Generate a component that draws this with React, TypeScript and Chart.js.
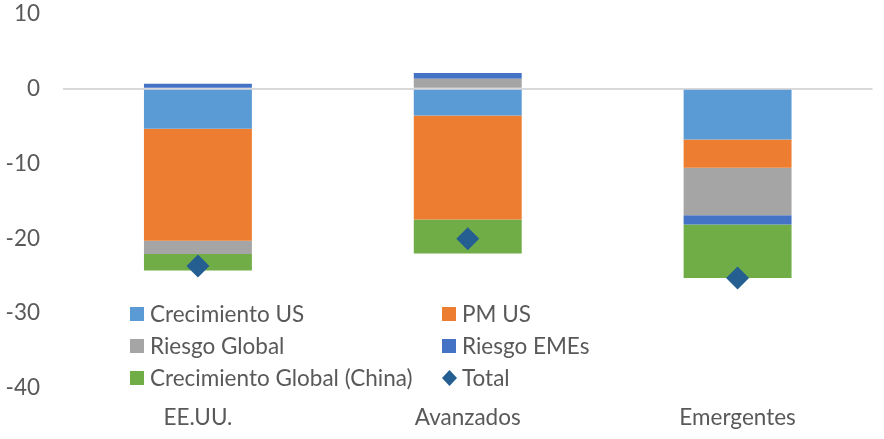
import React, { useEffect, useRef } from "react";
import { Chart, registerables } from "chart.js";

Chart.register(...registerables);

const categories = ["EE.UU.", "Avanzados", "Emergentes"];
const crecimientoUS = [-5.35, -3.57, -6.78];
const pmUS = [-14.95, -13.9, -3.78];
const riesgoGlobal = [-1.8, 1.34, -6.33];
const riesgoEMEs = [0.67, 0.76, -1.25];
const crecimientoGlobal = [-2.2, -4.55, -7.17];
const total = [-23.7, -20.05, -25.3];
const yTicks = [-40, -30, -20, -10, 0, 10];

const FONT = "Lato";
const FSIZE = 22.5;
const TEXT = "#595959";

const legendPlugin = {
  id: "customLegend",
  afterDraw(chart: any) {
    const ctx = chart.ctx;
    const ds = chart.data.datasets;
    // layout of legend items: [datasetIndex, x, y]
    const items: [number, number, number][] = [
      [1, 130, 314],
      [2, 442, 314],
      [3, 130, 346],
      [4, 442, 346],
      [5, 130, 378],
      [0, 442, 378],
    ];
    ctx.save();
    ctx.font = `${FSIZE}px ${FONT}`;
    ctx.textBaseline = "middle";
    ctx.textAlign = "left";
    for (const [i, x, y] of items) {
      const d = ds[i];
      if (d.type === "line") {
        ctx.fillStyle = d.backgroundColor;
        ctx.beginPath();
        ctx.moveTo(x + 7.5, y - 8);
        ctx.lineTo(x + 15, y);
        ctx.lineTo(x + 7.5, y + 8);
        ctx.lineTo(x, y);
        ctx.closePath();
        ctx.fill();
      } else {
        ctx.fillStyle = d.backgroundColor;
        ctx.fillRect(x, y - 7, 14, 14);
      }
      ctx.fillStyle = TEXT;
      ctx.fillText(d.label, x + 20, y + 1);
    }
    ctx.restore();
  },
};

export default function App() {
  const ref = useRef<HTMLCanvasElement>(null);
  useEffect(() => {
    document.body.style.margin = "0";
    const chart = new Chart(ref.current!, {
      type: "bar",
      data: {
        labels: categories,
        datasets: [
          {
            type: "line",
            label: "Total",
            data: total,
            showLine: false,
            pointStyle: "rectRot",
            pointRadius: 11.5,
            pointHoverRadius: 11.5,
            backgroundColor: "#255E91",
            borderColor: "#255E91",
            pointBorderWidth: 0,
            stack: "total",
            order: 0,
            clip: false,
          } as any,
          { label: "Crecimiento US", data: crecimientoUS, backgroundColor: "#5B9BD5", stack: "s", order: 1 },
          { label: "PM US", data: pmUS, backgroundColor: "#ED7D31", stack: "s", order: 1 },
          { label: "Riesgo Global", data: riesgoGlobal, backgroundColor: "#A5A5A5", stack: "s", order: 1 },
          { label: "Riesgo EMEs", data: riesgoEMEs, backgroundColor: "#4472C4", stack: "s", order: 1 },
          { label: "Crecimiento Global (China)", data: crecimientoGlobal, backgroundColor: "#70AD47", stack: "s", order: 1 },
        ],
      },
      options: {
        responsive: false,
        animation: false,
        maintainAspectRatio: false,
        layout: { padding: { top: 14, right: 9, left: 0, bottom: 0 } },
        datasets: { bar: { categoryPercentage: 1, barPercentage: 0.4 } } as any,
        plugins: { legend: { display: false }, tooltip: { enabled: false }, title: { display: false } },
        scales: {
          x: {
            stacked: true,
            grid: { display: false, drawTicks: false },
            border: { display: false },
            ticks: { color: TEXT, font: { family: FONT, size: FSIZE }, padding: 16 },
            afterFit(s: any) { s.height = 51; s.paddingLeft = 0; s.paddingRight = 0; },
          },
          y: {
            stacked: true,
            min: -40,
            max: 10,
            afterBuildTicks(s: any) { s.ticks = yTicks.map((v) => ({ value: v })); },
            grid: {
              drawTicks: false,
              color: (c: any) => (c.tick && c.tick.value === 0 ? "#D9D9D9" : "rgba(0,0,0,0)"),
              lineWidth: 2,
            },
            border: { display: false },
            ticks: { color: TEXT, font: { family: FONT, size: FSIZE }, padding: 23 },
            afterFit(s: any) { s.width = 63; s.paddingTop = 0; s.paddingBottom = 0; },
          },
        },
      },
      plugins: [legendPlugin],
    });
    return () => chart.destroy();
  }, []);
  return (
    <div style={{ position: "absolute", left: 0, top: 0, width: 884, height: 439 }}>
      <canvas ref={ref} width={884} height={439} style={{ display: "block" }} />
    </div>
  );
}
